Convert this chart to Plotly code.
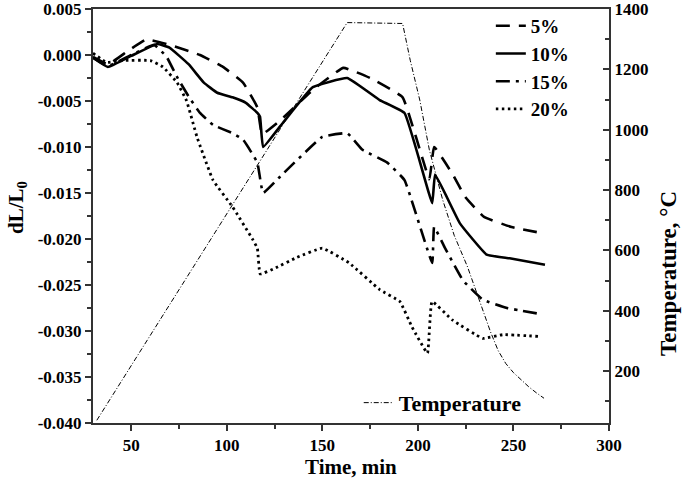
import plotly.graph_objects as go

# ---- data ----
t5 = [30, 38, 48, 58, 70, 86, 98, 108.5, 116, 118.5, 128, 145, 161, 175, 192, 206, 208.5, 218, 225, 234.6, 249, 266]
v5 = [-0.0002, -0.0010, 0.0004, 0.0017, 0.0011, 0.0000, -0.0013, -0.0030, -0.0057, -0.0086, -0.0071, -0.0038, -0.0014, -0.0025, -0.0046, -0.0135, -0.0100, -0.0129, -0.0155, -0.0176, -0.0187, -0.0194]

t10 = [30, 37.8, 50, 63.5, 70, 80, 88, 95, 103, 110, 116, 117.4, 119, 130, 145, 163, 180, 193, 207.5, 209, 222, 236, 248, 266.5]
v10 = [-0.0003, -0.0013, -0.0001, 0.0012, 0.0008, -0.0010, -0.0030, -0.0041, -0.0046, -0.0052, -0.0063, -0.0067, -0.0100, -0.0072, -0.0035, -0.0025, -0.0049, -0.0063, -0.0161, -0.0130, -0.0183, -0.0217, -0.0221, -0.0228]

t15 = [30, 37.8, 50, 62, 68.5, 74, 80, 86, 92.8, 103, 108.5, 116, 119, 128, 150, 163, 171, 184, 193, 207.5, 208.5, 214, 223.6, 234, 246.6, 265.5]
v15 = [-0.0003, -0.0012, 0.0000, 0.0011, -0.0002, -0.0024, -0.0045, -0.0063, -0.0076, -0.0085, -0.0092, -0.0117, -0.0150, -0.0132, -0.0089, -0.0085, -0.0103, -0.0117, -0.0136, -0.0226, -0.0187, -0.0209, -0.0245, -0.0266, -0.0275, -0.0282]

t20 = [30, 37, 45.7, 60, 66.6, 74, 79, 84.4, 92.8, 103, 113.7, 116, 117.5, 125, 136.7, 150, 164, 180, 190.6, 197, 205, 207.4, 218, 234, 244.5, 264]
v20 = [0.0002, -0.0008, -0.0006, -0.0006, -0.0013, -0.0030, -0.0050, -0.0089, -0.0136, -0.0165, -0.0201, -0.0210, -0.0238, -0.0232, -0.0220, -0.0210, -0.0226, -0.0255, -0.0268, -0.0296, -0.0324, -0.0268, -0.0288, -0.0308, -0.0304, -0.0306]

tT = [32, 163, 192, 196, 201, 206, 213, 219, 226, 232, 238, 242, 246, 250, 254, 258, 262, 266]
vT = [37, 1355, 1352, 1230, 1098, 933, 767, 650, 545, 435, 330, 268, 225, 195, 170, 148, 128, 110]

series_names = ["5%", "10%", "15%", "20%"]
left_ticks = [0.005, 0.0, -0.005, -0.010, -0.015, -0.020, -0.025, -0.030, -0.035, -0.040]
left_ticktext = [f"{v:.3f}".replace("-0.000", "0.000") for v in left_ticks]

FONT = "Liberation Serif"
AX = "#333333"

fig = go.Figure()
styles = [
    dict(dash="14px,9px", width=2.6),
    dict(dash="solid", width=2.6),
    dict(dash="14px,6px,3px,6px", width=2.6),
    dict(dash="2.5px,3.5px", width=2.8),
]
for (t, v), name, st in zip([(t5, v5), (t10, v10), (t15, v15), (t20, v20)], series_names, styles):
    fig.add_trace(go.Scatter(x=t, y=v, name=name, mode="lines",
                             line=dict(color="black", shape="spline", smoothing=0.3, **st),
                             legend="legend"))

fig.add_trace(go.Scatter(x=tT, y=vT, name="Temperature", mode="lines", yaxis="y2",
                         line=dict(color="black", width=1, dash="5px,2px,1px,2px"),
                         legend="legend2"))

tickfont = dict(family=FONT, size=17, color="black", weight="bold")
titlefont = dict(family=FONT, size=21, color="black", weight="bold")

fig.update_layout(
    width=685, height=487,
    margin=dict(l=93, r=76, t=9, b=64, autoexpand=False),
    paper_bgcolor="white", plot_bgcolor="white",
    xaxis=dict(range=[30, 300], tick0=0, dtick=50, ticks="outside", ticklen=6, tickwidth=1.5,
               tickcolor=AX, showline=True, linecolor=AX, linewidth=2, mirror=True,
               showgrid=False, zeroline=False, tickfont=tickfont, automargin=False,
               ticklabeloverflow="allow",
               minor=dict(dtick=25, tick0=0, ticks="outside", ticklen=4, tickcolor=AX, tickwidth=1.5)),
    yaxis=dict(range=[-0.040, 0.005], tickvals=left_ticks, ticktext=left_ticktext,
               ticks="outside", ticklen=6, tickwidth=1.5, tickcolor=AX, automargin=False,
               showline=True, linecolor=AX, linewidth=2, showgrid=False, zeroline=False,
               tickfont=tickfont, ticklabeloverflow="allow",
               minor=dict(dtick=0.0025, tick0=0, ticks="outside", ticklen=4, tickcolor=AX, tickwidth=1.5)),
    yaxis2=dict(range=[28, 1400], overlaying="y", side="right", tick0=0, dtick=200,
                ticks="inside", ticklen=6, tickwidth=1.5, tickcolor=AX, automargin=False,
                showline=True, linecolor=AX, linewidth=2, showgrid=False, zeroline=False,
                tickfont=tickfont, ticklabeloverflow="allow",
                minor=dict(dtick=100, tick0=0, ticks="inside", ticklen=4, tickcolor=AX, tickwidth=1.5)),
    legend=dict(x=0.771, y=1.005, xanchor="left", yanchor="top", bgcolor="rgba(0,0,0,0)",
                font=dict(family=FONT, size=19, color="black", weight="bold"),
                itemwidth=30, tracegroupgap=0),
    legend2=dict(x=0.515, y=-0.002, xanchor="left", yanchor="bottom", bgcolor="rgba(0,0,0,0)",
                 font=dict(family=FONT, size=22, color="black", weight="bold"),
                 itemwidth=30),
    showlegend=True,
    annotations=[
        dict(text="Time, min", xref="paper", yref="paper", x=0.5, y=0,
             yshift=-44, xanchor="center", yanchor="middle", showarrow=False, font=titlefont),
        dict(text="dL/L<sub>0</sub>", xref="paper", yref="paper", x=0, y=0.5, xshift=-76,
             yshift=8, xanchor="center", yanchor="middle", textangle=-90, showarrow=False,
             font=titlefont),
        dict(text="Temperature, °C", xref="paper", yref="paper", x=1, y=0.5, xshift=59,
             yshift=-58, xanchor="center", yanchor="middle", textangle=-90, showarrow=False,
             font=dict(family=FONT, size=23, color="black", weight="bold")),
    ],
)

# remove the browser's default 8px body margin so the figure fills the window exactly
fig.write_html("out.html", config={"displayModeBar": False},
               post_script="document.body.style.margin='0px';")
